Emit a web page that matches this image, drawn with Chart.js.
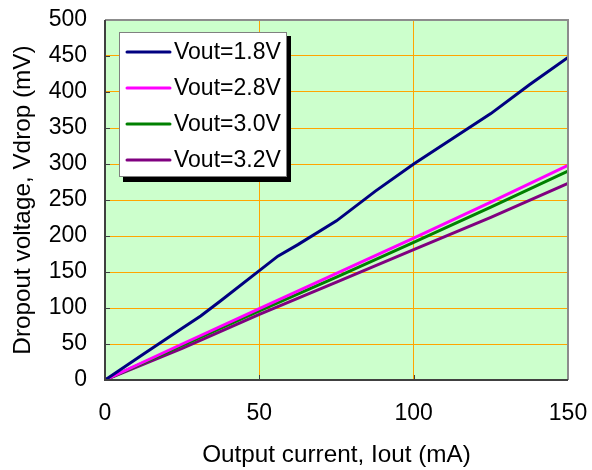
<!DOCTYPE html>
<html>
<head>
<meta charset="utf-8">
<script src="https://cdn.jsdelivr.net/npm/chart.js@4/dist/chart.umd.min.js"></script>
<style>
  html, body { margin: 0; padding: 0; background: #ffffff; }
  #wrap { width: 592px; height: 470px; }
</style>
</head>
<body>
<div id="wrap"><canvas id="c" width="592" height="470"></canvas></div>
<script>
// ---- data ----
const seriesLabels = ["Vout=1.8V", "Vout=2.8V", "Vout=3.0V", "Vout=3.2V"];
const seriesColors = ["#000080", "#FF00FF", "#008000", "#800080"];

const xBlue = [0, 12.5, 25, 31, 37.5, 50, 56, 62.5, 75, 87.5, 100, 112.5, 125, 137.5, 150];
const yBlue = [0, 36, 72, 89, 110, 152, 172, 188, 221, 262, 300, 335, 370, 410, 448];

const xOther = [0, 25, 50, 75, 100, 125, 150];
const yPink   = [0, 50, 99, 148, 197, 247, 298];
const yGreen  = [0, 48, 96, 143, 191, 240, 290];
const yPurple = [0, 44, 91, 136, 181, 226, 273];

const xTicks = [0, 50, 100, 150];
const yTicks = [0, 50, 100, 150, 200, 250, 300, 350, 400, 450, 500];

const xTitle = "Output current, Iout (mA)";
const yTitle = "Dropout voltage, Vdrop (mV)";

const FONT = "'Liberation Sans', Arial, sans-serif";
const TICK_SIZE = 23;
const TITLE_SIZE = 24.3;
const LEGEND_SIZE = 23;

function pts(xs, ys) { return xs.map((x, i) => ({ x: x, y: ys[i] })); }

const seriesData = [pts(xBlue, yBlue), pts(xOther, yPink), pts(xOther, yGreen), pts(xOther, yPurple)];

const datasets = seriesLabels.map((lab, i) => ({
  label: lab,
  data: seriesData[i],
  borderColor: seriesColors[i],
  backgroundColor: seriesColors[i],
  borderWidth: 3,
  pointRadius: 0,
  tension: 0,
  fill: false
}));

// plot background, inner tick marks, borders
const plotDecor = {
  id: 'plotDecor',
  beforeDraw(chart) {
    const { ctx, chartArea: a } = chart;
    ctx.save();
    ctx.fillStyle = '#CCFFCC';
    ctx.fillRect(a.left, a.top, a.right - a.left, a.bottom - a.top);
    ctx.restore();
  },
  beforeDatasetsDraw(chart) {
    const { ctx, chartArea: a, scales } = chart;
    ctx.save();
    ctx.strokeStyle = '#404040';
    ctx.lineWidth = 1;
    ctx.beginPath();
    yTicks.forEach(v => {
      const y = Math.round(scales.y.getPixelForValue(v)) + 0.5;
      ctx.moveTo(a.left, y); ctx.lineTo(a.left + 5, y);
    });
    xTicks.forEach(v => {
      const x = Math.round(scales.x.getPixelForValue(v)) + 0.5;
      ctx.moveTo(x, a.bottom); ctx.lineTo(x, a.bottom - 5);
    });
    ctx.stroke();
    ctx.restore();
  },
  afterDatasetsDraw(chart) {
    const { ctx, chartArea: a } = chart;
    ctx.save();
    ctx.strokeStyle = '#8C8C8C';
    ctx.lineWidth = 2;
    ctx.beginPath();
    ctx.moveTo(a.left, a.top); ctx.lineTo(a.right, a.top); ctx.lineTo(a.right, a.bottom);
    ctx.stroke();
    ctx.strokeStyle = '#404040';
    ctx.beginPath();
    ctx.moveTo(a.left, a.top); ctx.lineTo(a.left, a.bottom); ctx.lineTo(a.right, a.bottom);
    ctx.stroke();
    ctx.restore();
  }
};

// legend box inside the plot, with drop shadow
const boxLegend = {
  id: 'boxLegend',
  afterDraw(chart) {
    const { ctx, chartArea: a } = chart;
    const bx = a.left + 14, by = a.top + 12, bw = 167, bh = 144;
    ctx.save();
    ctx.fillStyle = '#000000';
    ctx.fillRect(bx + 4, by + 4, bw + 1, bh + 2);
    ctx.fillStyle = '#FFFFFF';
    ctx.fillRect(bx, by, bw, bh);
    ctx.strokeStyle = '#808080';
    ctx.lineWidth = 1;
    ctx.strokeRect(bx + 0.5, by + 0.5, bw, bh);
    ctx.font = LEGEND_SIZE + 'px ' + FONT;
    ctx.textBaseline = 'middle';
    ctx.textAlign = 'left';
    chart.data.datasets.forEach((ds, i) => {
      const cy = by + 20 + i * 36;
      ctx.strokeStyle = ds.borderColor;
      ctx.lineWidth = 3;
      ctx.lineCap = 'round';
      ctx.beginPath();
      ctx.moveTo(bx + 8, cy); ctx.lineTo(bx + 51, cy);
      ctx.stroke();
      ctx.fillStyle = '#000000';
      ctx.fillText(ds.label, bx + 55, cy + 1);
    });
    ctx.restore();
  }
};

function zeroPad(s) { s.paddingLeft = 0; s.paddingRight = 0; s.paddingTop = 0; s.paddingBottom = 0; }

new Chart(document.getElementById('c'), {
  type: 'line',
  data: { datasets: datasets },
  plugins: [plotDecor, boxLegend],
  options: {
    responsive: false,
    animation: false,
    devicePixelRatio: 1,
    layout: { padding: { top: 20, right: 24, left: 0, bottom: 0 } },
    plugins: { legend: { display: false }, tooltip: { enabled: false } },
    scales: {
      x: {
        type: 'linear',
        min: 0, max: 150,
        afterFit(s) { s.height = 90; zeroPad(s); },
        afterBuildTicks(s) { s.ticks = xTicks.map(v => ({ value: v })); },
        ticks: { color: '#000', font: { family: FONT, size: TICK_SIZE }, padding: 20, maxRotation: 0 },
        grid: { color: '#FFA500', lineWidth: 1, drawTicks: false },
        border: { display: false },
        title: { display: true, text: xTitle, color: '#000', font: { family: FONT, size: TITLE_SIZE }, padding: { top: 0, bottom: 0 } }
      },
      y: {
        type: 'linear',
        min: 0, max: 500,
        afterFit(s) { s.width = 105; zeroPad(s); },
        afterBuildTicks(s) { s.ticks = yTicks.map(v => ({ value: v })); },
        ticks: { color: '#000', font: { family: FONT, size: TICK_SIZE }, padding: 18 },
        grid: { color: '#FFA500', lineWidth: 1, drawTicks: false },
        border: { display: false },
        title: { display: true, text: yTitle, color: '#000', font: { family: FONT, size: TITLE_SIZE }, padding: { top: 9, bottom: 0 } }
      }
    }
  }
});
</script>
</body>
</html>
